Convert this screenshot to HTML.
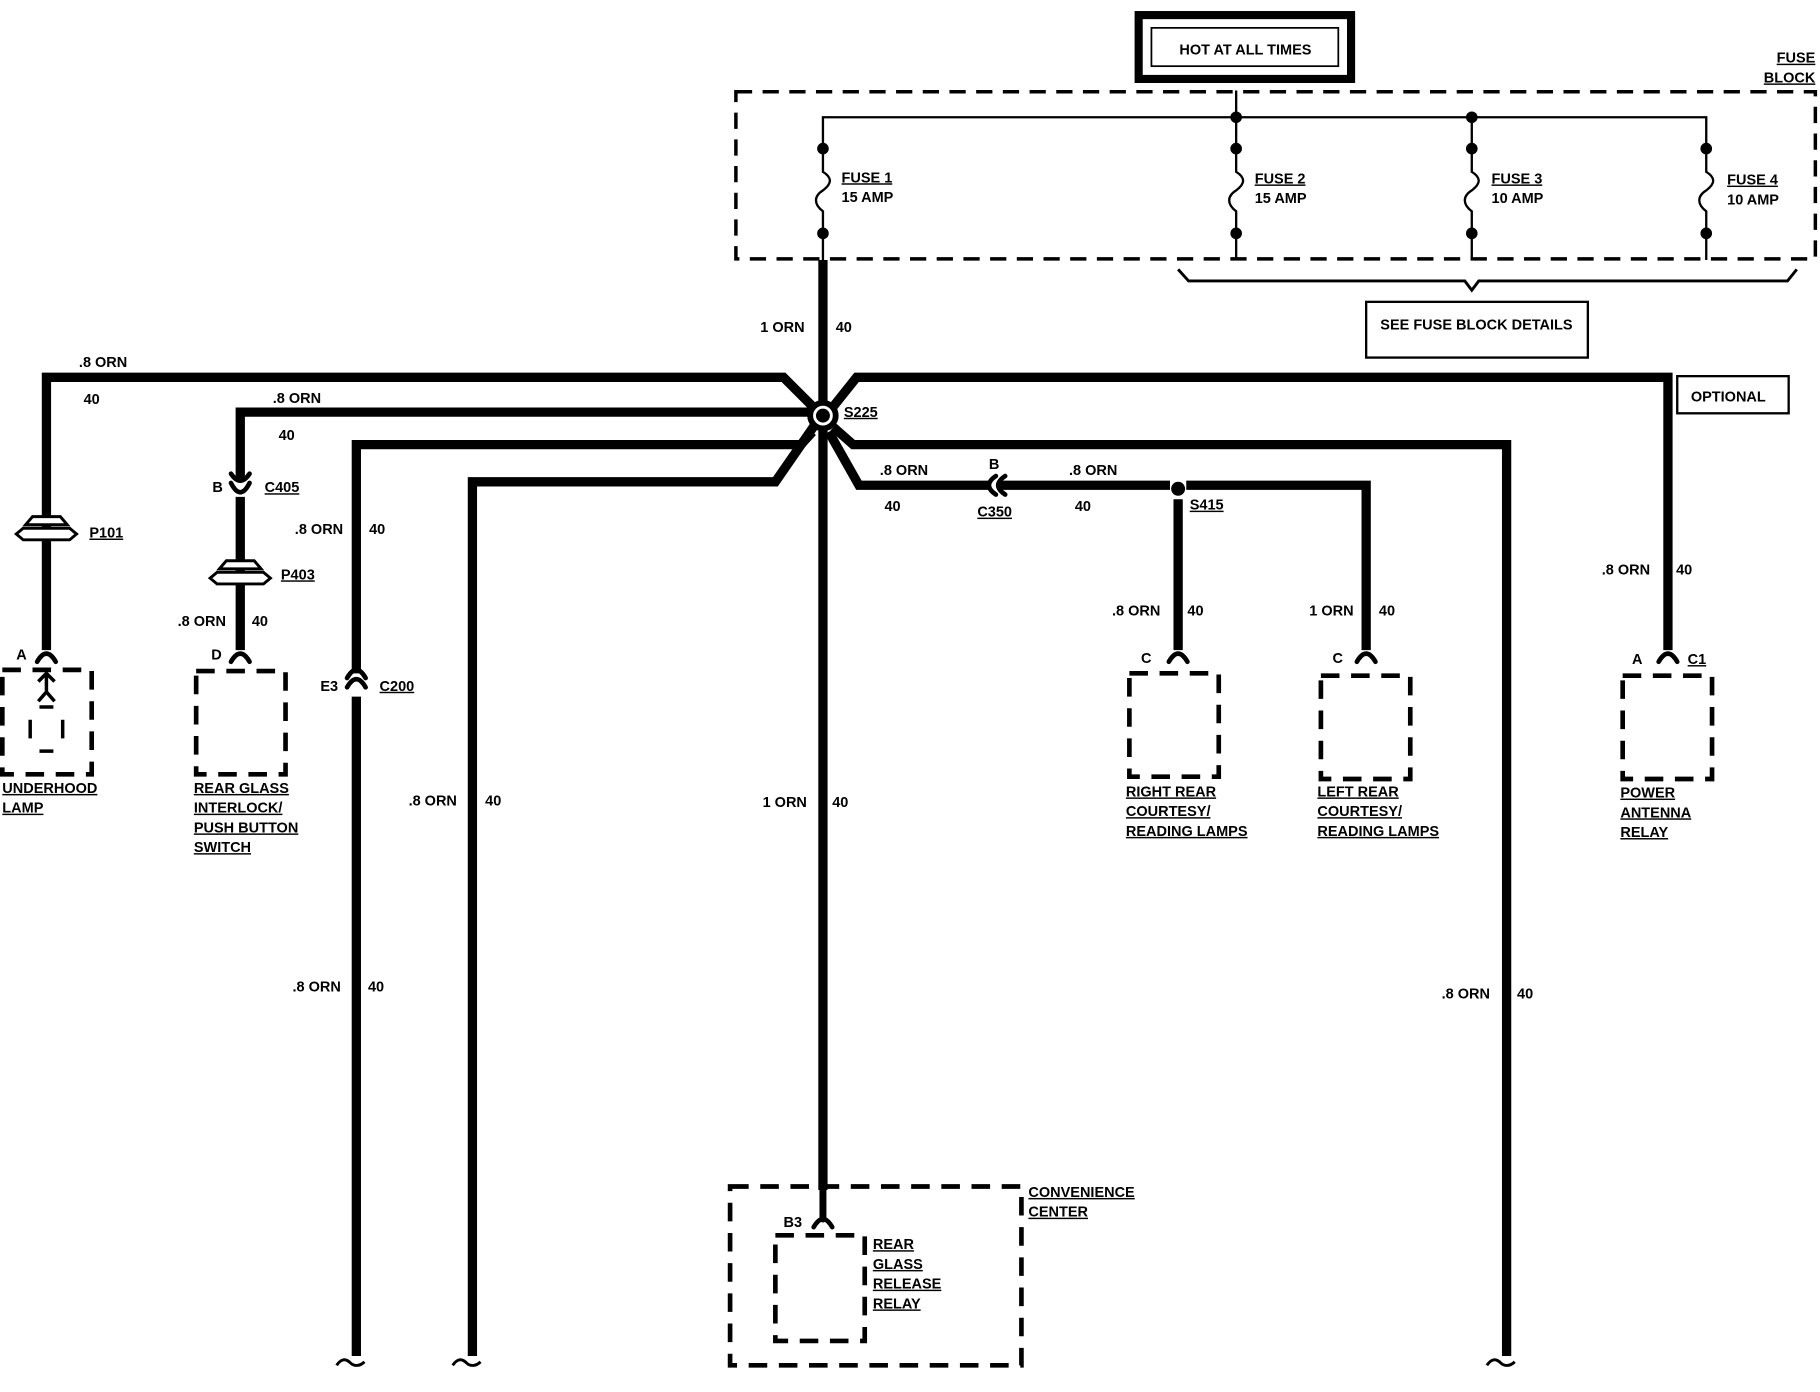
<!DOCTYPE html>
<html><head><meta charset="utf-8"><style>
html,body{margin:0;padding:0;background:#fff;}
svg{display:block}
text{font-family:"Liberation Sans",sans-serif;font-weight:bold;font-size:12.5px;fill:#000}
.u{text-decoration:underline}
</style></head><body>
<svg width="1820" height="1392" viewBox="0 0 1568 1199" preserveAspectRatio="none" xmlns="http://www.w3.org/2000/svg">
<!-- HOT box -->
<rect x="981" y="13" width="183" height="55" fill="none" stroke="#000" stroke-width="7"/>
<rect x="992" y="24" width="161" height="33" fill="none" stroke="#000" stroke-width="1.5"/>
<text x="1073" y="47" text-anchor="middle">HOT AT ALL TIMES</text>
<!-- Fuse block -->
<rect x="634" y="79" width="930" height="144" fill="none" stroke="#000" stroke-width="3" stroke-dasharray="14,9"/>
<text x="1564" y="54" text-anchor="end" class="u">FUSE</text>
<text x="1564" y="71" text-anchor="end" class="u">BLOCK</text>
<g fill="none" stroke="#000" stroke-width="2">
<path d="M709 128 V101 H1470 V128"/>
<path d="M1065 78 V128 M1268 101 V128"/>
<path d="M709 128 V148 c8 5 8 10 0 16 c-8 5 -8 12 0 18 V224"/>
<path d="M1065 128 V148 c8 5 8 10 0 16 c-8 5 -8 12 0 18 V224"/>
<path d="M1268 128 V148 c8 5 8 10 0 16 c-8 5 -8 12 0 18 V224"/>
<path d="M1470 128 V148 c8 5 8 10 0 16 c-8 5 -8 12 0 18 V224"/>
<path d="M1015 232 L1024 242 H1262 L1268 250 L1274 242 H1540 L1548 232" stroke-width="2.5"/>
</g>
<g fill="#000">
<circle cx="709" cy="128" r="5"/><circle cx="709" cy="201" r="5"/>
<circle cx="1065" cy="101" r="5"/><circle cx="1065" cy="128" r="5"/><circle cx="1065" cy="201" r="5"/>
<circle cx="1268" cy="101" r="5"/><circle cx="1268" cy="128" r="5"/><circle cx="1268" cy="201" r="5"/>
<circle cx="1470" cy="128" r="5"/><circle cx="1470" cy="201" r="5"/>
</g>
<text x="725" y="157" class="u">FUSE 1</text><text x="725" y="174">15 AMP</text>
<text x="1081" y="158" class="u">FUSE 2</text><text x="1081" y="175">15 AMP</text>
<text x="1285" y="158" class="u">FUSE 3</text><text x="1285" y="175">10 AMP</text>
<text x="1488" y="159" class="u">FUSE 4</text><text x="1488" y="176">10 AMP</text>
<rect x="1177" y="260" width="191" height="48" fill="none" stroke="#000" stroke-width="2"/>
<text x="1272" y="284" text-anchor="middle">SEE FUSE BLOCK DETAILS</text>
<rect x="1445" y="324" width="96" height="32" fill="none" stroke="#000" stroke-width="2"/>
<text x="1489" y="346" text-anchor="middle">OPTIONAL</text>

<!-- wires -->
<g fill="none" stroke="#000" stroke-width="8" stroke-linejoin="miter">
<path d="M709 224 V1025"/>
<path d="M40 560 V325 H675 L700 350"/>
<path d="M207 412 V355 H700"/>
<path d="M207 428 V560"/>
<path d="M307 580 V383 H690 L700 372"/>
<path d="M307 600 V1168"/>
<path d="M407 1168 V415 H668 L702 366"/>
<path d="M718 350 L738 325 H1437 V560"/>
<path d="M718 368 L735 383 H1298 V1168"/>
<path d="M714 372 L740 418 H852"/>
<path d="M862 418 H1008 M1022 418 H1177 V560"/>
<path d="M1015 430 V560"/>
</g>
<circle cx="709" cy="358" r="11" fill="#fff" stroke="#000" stroke-width="5"/>
<circle cx="709" cy="358" r="6" fill="#000"/>
<circle cx="1015" cy="421" r="6" fill="#000"/>
<text x="727" y="359" class="u">S225</text>
<text x="1025" y="439" class="u">S415</text>

<!-- wire end squiggles -->
<g fill="none" stroke="#000" stroke-width="2.5">
<path d="M290 1176 c4 -6 8 -6 12 -2 c3 3 8 3 12 -1"/>
<path d="M390 1176 c4 -6 8 -6 12 -2 c3 3 8 3 12 -1"/>
<path d="M1281 1176 c4 -6 8 -6 12 -2 c3 3 8 3 12 -1"/>
</g>

<!-- female connectors (^) -->
<g fill="none" stroke="#000" stroke-width="4" stroke-linecap="round">
<path d="M32 570 Q40 556 48 570"/>
<path d="M199 570 Q207 556 215 570"/>
<path d="M1007 570 Q1015 556 1023 570"/>
<path d="M1169 570 Q1177 556 1185 570"/>
<path d="M1429 570 Q1437 556 1445 570"/>
<path d="M701 1057 Q709 1043 717 1057"/>
<path d="M709 1025 V1050" stroke-width="6"/>
<!-- C405 -->
<path d="M199 408 Q207 420 215 408"/>
<path d="M199 416 Q207 432 215 416"/>
<!-- C200 -->
<path d="M299 592 Q307 578 315 592"/>
<path d="M299 584 Q307 570 315 584"/>
<!-- C350 -->
<path d="M858 410 Q846 418 858 426"/>
<path d="M866 410 Q854 418 866 426"/>
</g>
<!-- P101 / P403 -->
<g fill="#fff" stroke="#000" stroke-width="2.5">
<path d="M22 452 L28 445 H52 L58 452 Z"/>
<path d="M14 460 L20 455 H60 L66 460 L60 465 H20 Z"/>
<path d="M189 490 L195 483 H219 L225 490 Z"/>
<path d="M181 498 L187 493 H227 L233 498 L227 503 H187 Z"/>
</g>
<!-- boxes -->
<g fill="none" stroke="#000" stroke-width="4" stroke-dasharray="16,10">
<rect x="2" y="577" width="77" height="90"/>
<rect x="169" y="578" width="77" height="89"/>
<rect x="973" y="580" width="77" height="89"/>
<rect x="1138" y="582" width="77" height="89"/>
<rect x="1398" y="582" width="77" height="89"/>
<rect x="668" y="1064" width="77" height="91"/>
<rect x="629" y="1022" width="251" height="154"/>
</g>
<!-- lamp symbol -->
<g fill="none" stroke="#000" stroke-width="3">
<path d="M40 580 V595 M33 587 L40 580 L47 587 M33 604 L40 596 L47 604"/>
<path d="M34 609 H46 M26 620 V636 M54 620 V636 M34 647 H46"/>
</g>

<!-- labels -->
<text x="68" y="316">.8 ORN</text><text x="72" y="348">40</text>
<text x="235" y="347">.8 ORN</text><text x="240" y="379">40</text>
<text x="183" y="424">B</text><text x="228" y="424" class="u">C405</text>
<text x="77" y="463" class="u">P101</text>
<text x="242" y="499" class="u">P403</text>
<text x="153" y="539">.8 ORN</text><text x="217" y="539">40</text>
<text x="254" y="460">.8 ORN</text><text x="318" y="460">40</text>
<text x="14" y="568">A</text><text x="182" y="568">D</text>
<text x="276" y="595">E3</text><text x="327" y="595" class="u">C200</text>
<text x="2" y="683" class="u">UNDERHOOD</text><text x="2" y="700" class="u">LAMP</text>
<text x="167" y="683" class="u">REAR GLASS</text><text x="167" y="700" class="u">INTERLOCK/</text>
<text x="167" y="717" class="u">PUSH BUTTON</text><text x="167" y="734" class="u">SWITCH</text>
<text x="655" y="286">1 ORN</text><text x="720" y="286">40</text>
<text x="758" y="409">.8 ORN</text><text x="762" y="440">40</text>
<text x="852" y="404">B</text><text x="842" y="445" class="u">C350</text>
<text x="921" y="409">.8 ORN</text><text x="926" y="440">40</text>
<text x="958" y="530">.8 ORN</text><text x="1023" y="530">40</text>
<text x="1128" y="530">1 ORN</text><text x="1188" y="530">40</text>
<text x="983" y="571">C</text><text x="1148" y="571">C</text>
<text x="1380" y="495">.8 ORN</text><text x="1444" y="495">40</text>
<text x="1406" y="572">A</text><text x="1454" y="572" class="u">C1</text>
<text x="970" y="686" class="u">RIGHT REAR</text><text x="970" y="703" class="u">COURTESY/</text><text x="970" y="720" class="u">READING LAMPS</text>
<text x="1135" y="686" class="u">LEFT REAR</text><text x="1135" y="703" class="u">COURTESY/</text><text x="1135" y="720" class="u">READING LAMPS</text>
<text x="1396" y="687" class="u">POWER</text><text x="1396" y="704" class="u">ANTENNA</text><text x="1396" y="721" class="u">RELAY</text>
<text x="352" y="694">.8 ORN</text><text x="418" y="694">40</text>
<text x="657" y="695">1 ORN</text><text x="717" y="695">40</text>
<text x="252" y="854">.8 ORN</text><text x="317" y="854">40</text>
<text x="1242" y="860">.8 ORN</text><text x="1307" y="860">40</text>
<text x="886" y="1031" class="u">CONVENIENCE</text><text x="886" y="1048" class="u">CENTER</text>
<text x="675" y="1057">B3</text>
<text x="752" y="1076" class="u">REAR</text><text x="752" y="1093" class="u">GLASS</text>
<text x="752" y="1110" class="u">RELEASE</text><text x="752" y="1127" class="u">RELAY</text>
</svg>
</body></html>
